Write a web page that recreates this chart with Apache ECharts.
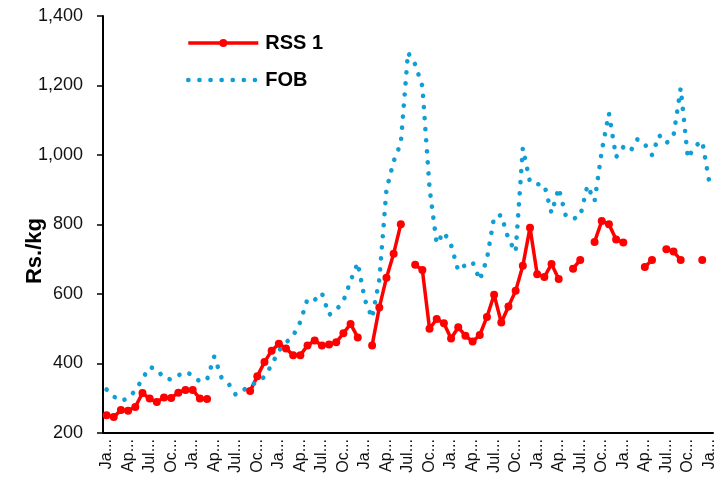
<!DOCTYPE html>
<html>
<head>
<meta charset="utf-8">
<script src="https://cdn.jsdelivr.net/npm/echarts@6/dist/echarts.min.js"></script>
<style>
  html, body { margin: 0; padding: 0; background: #fff; }
  #chart { width: 718px; height: 479px; }
</style>
</head>
<body>
<div id="chart"></div>
<script>
// months Jan-19 .. Jan-26, the axis shows every 3rd one truncated like Excel does
const monthNames = ['Jan', 'Feb', 'Mar', 'Apr', 'May', 'Jun', 'Jul', 'Aug', 'Sep', 'Oct', 'Nov', 'Dec']
const firstYear = 2019
const monthCount = 85
const tickLabels = { Jan: 'Ja...', Apr: 'Ap...', Jul: 'Jul...', Oct: 'Oc...' }

const yMin = 200
const yMax = 1400
const yStep = 200

const seriesNames = ['RSS 1', 'FOB']

// Rs./kg, null = no price that month
const rss1 = [
  251, 246, 266, 264, 275, 315, 299, 289, 302, 301, 316, 324, 324, 299, 298,
  null, null, null, null, null,
  321, 363, 404, 437, 457, 443, 424, 424, 452, 466, 452, 455, 461, 487, 514, 475,
  null,
  452, 561, 647, 716, 801,
  null,
  684, 669, 500, 528, 516, 472, 504, 480, 463, 482, 534, 598, 518, 564, 609, 681, 791, 657, 649, 686, 643,
  null,
  673, 698,
  null,
  750, 810, 801, 757, 748,
  null, null,
  678, 698,
  null,
  729, 722, 698,
  null, null,
  698,
  null
]

const fob = [
  325, 305, 292, 300, 322, 356, 390, 383, 358, 354, 366, 376, 366, 348, 354, 420, 360, 342, 310, 322, 338,
  345, 362, 396, 437, 460, 480, 520, 586, 583, 603, 540, 554, 580, 638, 690, 583, 531,
  641, 900, 982, 1034, 1295, 1261, 1198, 905, 745, 778, 741,
  667, 684, 692, 640, 701, 822, 827, 758, 721, 1020, 922, 916, 914, 833, 905, 824, 816, 824, 912, 867,
  1012, 1120, 994, 1023, 1011, 1046, 1031, 1000, 1057, 1034, 1056, 1192, 991, 1026, 1040, 920
]

const categories = []
for (let i = 0; i < monthCount; i++) {
  const yy = String(firstYear + Math.floor(i / 12)).slice(2)
  categories.push(monthNames[i % 12] + '-' + yy)
}

const chart = echarts.init(document.getElementById('chart'))

chart.setOption({
  animation: false,
  backgroundColor: '#fff',
  textStyle: { fontFamily: 'Liberation Sans, Arial, sans-serif' },
  grid: {
    left: 103,
    right: 5,
    top: 16,
    bottom: 46
  },
  legend: {
    orient: 'vertical',
    left: 186,
    top: 33,
    padding: 0,
    itemWidth: 70,
    itemHeight: 10,
    itemGap: 17,
    lineStyle: { width: 'inherit', cap: 'inherit' },
    data: [
      { name: seriesNames[0] },
      { name: seriesNames[1], itemStyle: { color: 'rgba(0,0,0,0)', borderWidth: 0 } }
    ],
    textStyle: { fontSize: 20, fontWeight: 'bold', color: '#000', padding: [0, 0, 0, 2] }
  },
  graphic: [{
    type: 'text',
    left: 24,
    top: 218,
    rotation: Math.PI / 2,
    style: {
      text: 'Rs./kg',
      font: 'bold 22px Liberation Sans, Arial, sans-serif',
      fill: '#000'
    }
  }],
  xAxis: {
    type: 'category',
    data: categories,
    boundaryGap: true,
    axisLine: { lineStyle: { color: '#000', width: 2 } },
    axisTick: { interval: 2, length: 5, lineStyle: { color: '#000', width: 1.5 } },
    axisLabel: {
      interval: 2,
      rotate: 90,
      margin: 6,
      fontSize: 16,
      color: '#111',
      formatter: function (v) {
        return tickLabels[v.split('-')[0]] || ''
      }
    },
    splitLine: { show: false }
  },
  yAxis: {
    type: 'value',
    min: yMin,
    max: yMax,
    interval: yStep,
    axisLine: { show: true, lineStyle: { color: '#000', width: 2 } },
    axisTick: { show: true, length: 6, lineStyle: { color: '#000', width: 1.5 } },
    axisLabel: {
      fontSize: 18,
      color: '#111',
      margin: 20,
      formatter: function (v) { return v.toLocaleString('en-US') }
    },
    splitLine: { show: false }
  },
  series: [
    {
      name: seriesNames[0],
      type: 'line',
      data: rss1,
      connectNulls: false,
      symbol: 'circle',
      symbolSize: 8,
      showAllSymbol: true,
      itemStyle: { color: '#ff0000', borderWidth: 0 },
      lineStyle: { color: '#ff0000', width: 3.5 }
    },
    {
      name: seriesNames[1],
      type: 'line',
      data: fob,
      showSymbol: false,
      symbol: 'none',
      itemStyle: { color: '#0f9ed5' },
      lineStyle: {
        color: '#0f9ed5',
        width: 4.6,
        type: [0.1, 11],
        cap: 'round'
      }
    }
  ]
})
</script>
</body>
</html>
